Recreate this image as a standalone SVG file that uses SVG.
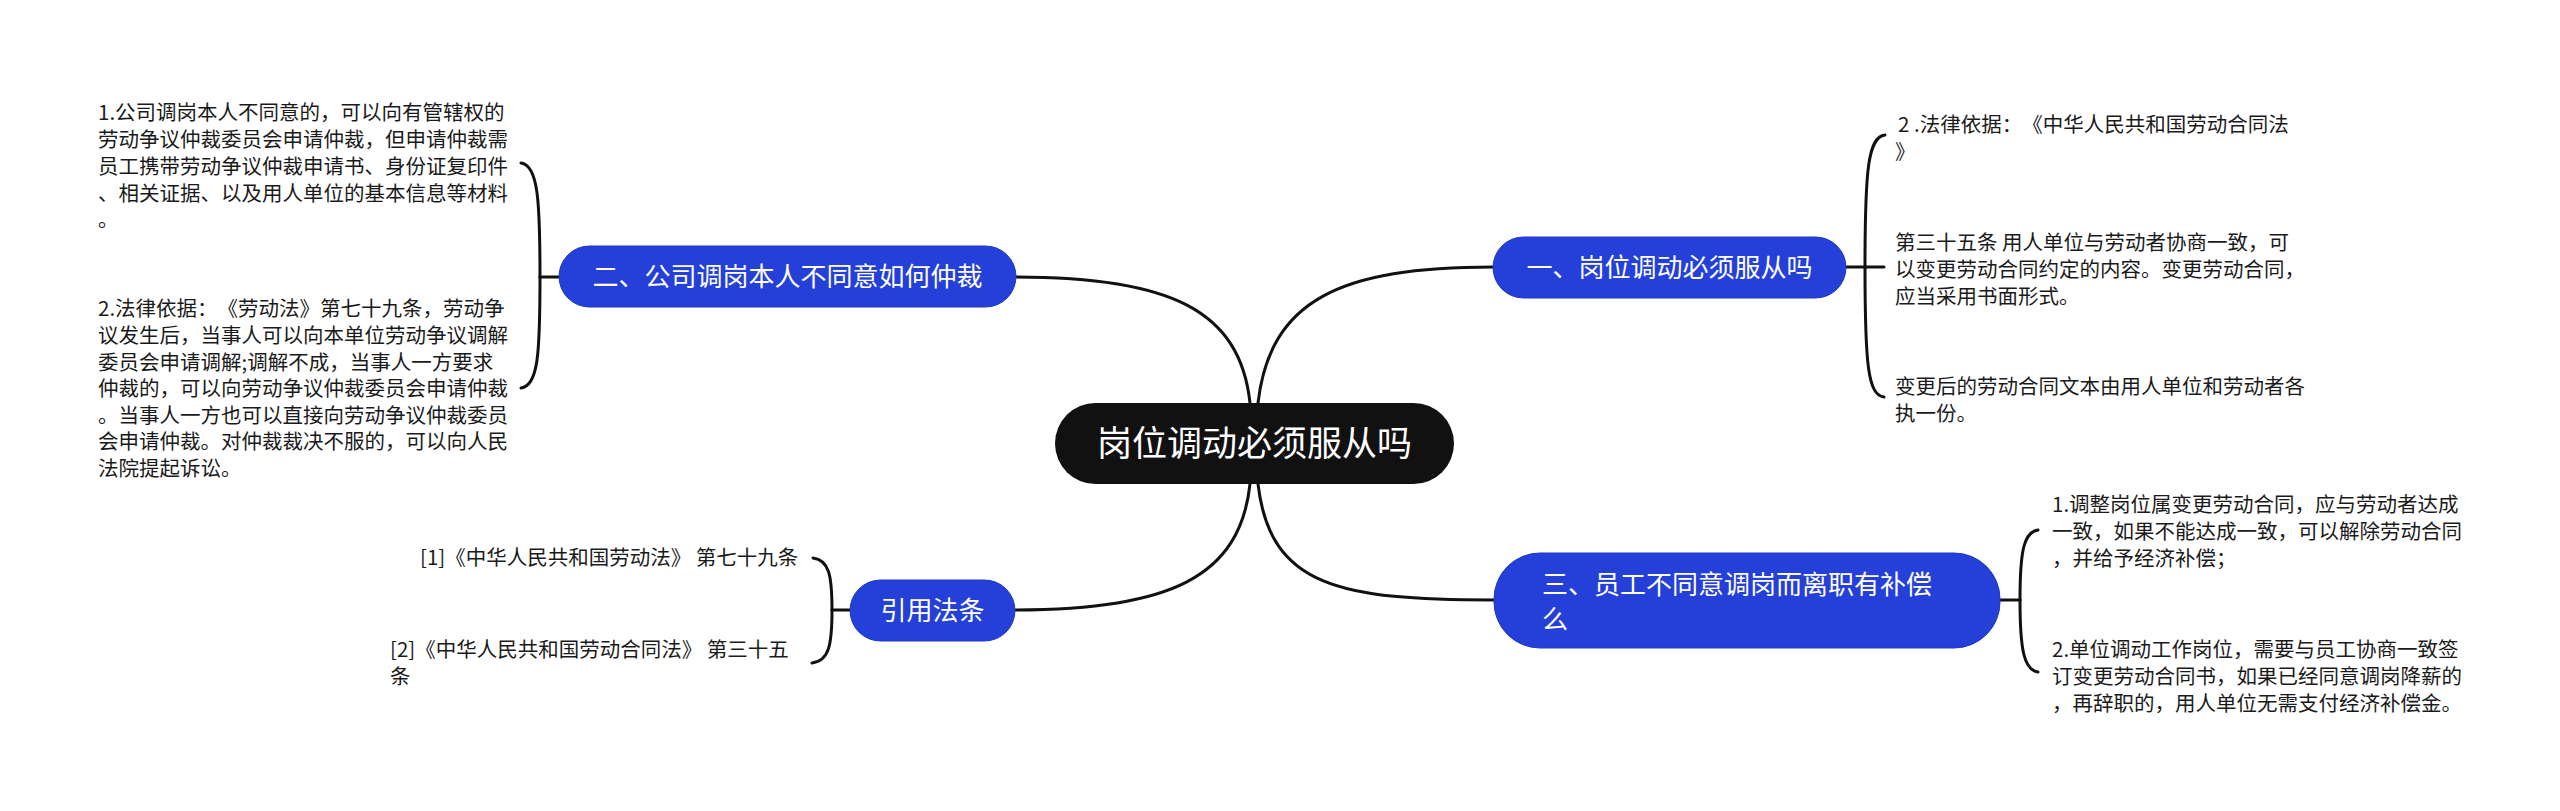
<svg xmlns="http://www.w3.org/2000/svg" width="2560" height="811" viewBox="0 0 2560 811">
<style>
.bg{fill:#ffffff}
.conn{fill:none;stroke:#111111;stroke-width:3;stroke-linecap:round}
.topic{fill:#2440d8;stroke:#1f38c4;stroke-width:1}
.root{fill:#111111}
.tw{fill:#ffffff;font-family:"Noto Sans CJK SC","Noto Sans",sans-serif;text-spacing-trim:space-all}
.leaf{fill:#1a1a1a;font-family:"Noto Sans CJK SC","Noto Sans",sans-serif;font-size:20.5px;text-spacing-trim:space-all}
</style>
<rect class="bg" x="0" y="0" width="2560" height="811"/>
<g id="connectors">
  <path class="conn" d="M1258 403 C1270 300 1340 267 1493 267"/>
  <path class="conn" d="M1258 484 C1270 587 1340 600 1494 600"/>
  <path class="conn" d="M1250 403 C1240 310 1170 277 1016 277"/>
  <path class="conn" d="M1250 484 C1240 577 1170 610 1015 610"/>
  <path class="conn" d="M559 277 L540 277"/>
  <path class="conn" d="M540 277 C540 200 538 165 521 163"/>
  <path class="conn" d="M540 277 C540 355 538 386 521 388"/>
  <path class="conn" d="M1846 267 L1884 267"/>
  <path class="conn" d="M1865 267 C1865 170 1868 137 1885 135"/>
  <path class="conn" d="M1865 267 C1865 365 1868 395 1884 397"/>
  <path class="conn" d="M2000 600 L2020 600"/>
  <path class="conn" d="M2020 600 C2020 550 2024 532 2038 530"/>
  <path class="conn" d="M2020 600 C2020 650 2024 670 2038 672"/>
  <path class="conn" d="M850 610 L832 610"/>
  <path class="conn" d="M832 610 C832 575 829 560 813 558"/>
  <path class="conn" d="M832 610 C832 645 829 661 812 663"/>
</g>
<g id="root">
  <rect class="root" x="1055" y="403" width="399" height="81" rx="40.5"/>
  <text class="tw" x="1254.5" y="455.6" font-size="35" text-anchor="middle">岗位调动必须服从吗</text>
</g>
<g id="node1">
  <rect class="topic" x="1493" y="237" width="353" height="61" rx="30.5"/>
  <text class="tw" x="1669.5" y="277" font-size="26" text-anchor="middle">一、岗位调动必须服从吗</text>
</g>
<g id="node2">
  <rect class="topic" x="559" y="246" width="457" height="61" rx="30.5"/>
  <text class="tw" x="787.5" y="286" font-size="26" text-anchor="middle">二、公司调岗本人不同意如何仲裁</text>
</g>
<g id="node3">
  <rect class="topic" x="1494" y="553" width="506" height="95" rx="46"/>
  <text class="tw" x="1542" y="594.4" font-size="26">三、员工不同意调岗而离职有补偿</text>
  <text class="tw" x="1542" y="629.4" font-size="26">么</text>
</g>
<g id="node4">
  <rect class="topic" x="850" y="580" width="165" height="61" rx="30.5"/>
  <text class="tw" x="932.5" y="620" font-size="26" text-anchor="middle">引用法条</text>
</g>
<g id="leaf2a">
  <text class="leaf">
    <tspan x="98" y="120.4">1.公司调岗本人不同意的，可以向有管辖权的</tspan>
    <tspan x="98" y="147.1">劳动争议仲裁委员会申请仲裁，但申请仲裁需</tspan>
    <tspan x="98" y="173.8">员工携带劳动争议仲裁申请书、身份证复印件</tspan>
    <tspan x="98" y="200.5">、相关证据、以及用人单位的基本信息等材料</tspan>
    <tspan x="98" y="227.2">。</tspan>
  </text>
</g>
<g id="leaf2b">
  <text class="leaf">
    <tspan x="98" y="316.4">2.法律依据：《劳动法》第七十九条，劳动争</tspan>
    <tspan x="98" y="343">议发生后，当事人可以向本单位劳动争议调解</tspan>
    <tspan x="98" y="369.6">委员会申请调解;调解不成，当事人一方要求</tspan>
    <tspan x="98" y="396.2">仲裁的，可以向劳动争议仲裁委员会申请仲裁</tspan>
    <tspan x="98" y="422.8">。当事人一方也可以直接向劳动争议仲裁委员</tspan>
    <tspan x="98" y="449.4">会申请仲裁。对仲裁裁决不服的，可以向人民</tspan>
    <tspan x="98" y="476">法院提起诉讼。</tspan>
  </text>
</g>
<g id="leaf1a">
  <text class="leaf">
    <tspan x="1898" y="132.4">2 .法律依据：《中华人民共和国劳动合同法</tspan>
    <tspan x="1895" y="159.4">》</tspan>
  </text>
</g>
<g id="leaf1b">
  <text class="leaf">
    <tspan x="1895" y="250.4">第三十五条 用人单位与劳动者协商一致，可</tspan>
    <tspan x="1895" y="277">以变更劳动合同约定的内容。变更劳动合同，</tspan>
    <tspan x="1895" y="303.6">应当采用书面形式。</tspan>
  </text>
</g>
<g id="leaf1c">
  <text class="leaf">
    <tspan x="1895" y="394.4">变更后的劳动合同文本由用人单位和劳动者各</tspan>
    <tspan x="1895" y="421">执一份。</tspan>
  </text>
</g>
<g id="leaf3a">
  <text class="leaf">
    <tspan x="2052" y="512.4">1.调整岗位属变更劳动合同，应与劳动者达成</tspan>
    <tspan x="2052" y="539">一致，如果不能达成一致，可以解除劳动合同</tspan>
    <tspan x="2052" y="565.6">，并给予经济补偿；</tspan>
  </text>
</g>
<g id="leaf3b">
  <text class="leaf">
    <tspan x="2052" y="657.4">2.单位调动工作岗位，需要与员工协商一致签</tspan>
    <tspan x="2052" y="684">订变更劳动合同书，如果已经同意调岗降薪的</tspan>
    <tspan x="2052" y="710.6">，再辞职的，用人单位无需支付经济补偿金。</tspan>
  </text>
</g>
<g id="ref1">
  <text class="leaf" x="420" y="565.4">[1]《中华人民共和国劳动法》 第七十九条</text>
</g>
<g id="ref2">
  <text class="leaf">
    <tspan x="390" y="657.4">[2]《中华人民共和国劳动合同法》 第三十五</tspan>
    <tspan x="390" y="684">条</tspan>
  </text>
</g>
</svg>
